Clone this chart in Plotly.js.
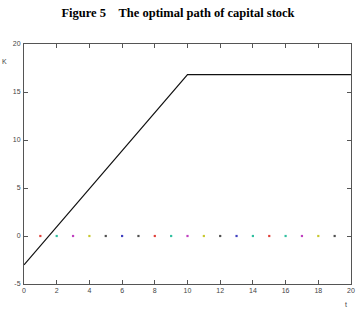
<!DOCTYPE html>
<html>
<head>
<meta charset="utf-8">
<script src="https://cdn.plot.ly/plotly-3.0.1.min.js"></script>
<style>html,body{margin:0;padding:0;background:#fff;}#chart{width:356px;height:310px;}</style>
</head>
<body>
<div id="chart"></div>
<script>
var pathT = [0, 10, 20];
var pathK = [-3, 16.8, 16.8];
var dotT = [1,2,3,4,5,6,7,8,9,10,11,12,13,14,15,16,17,18,19];
var dotK = [0,0,0,0,0,0,0,0,0,0,0,0,0,0,0,0,0,0,0];
var dotColors = ['#e0403a','#30c0a0','#c040c0','#c8c830','#505050','#4040c0','#505050','#e0403a','#30c0a0','#c040c0','#c8c830','#505050','#4040c0','#30c0a0','#e0403a','#30c0a0','#c040c0','#c8c830','#505050'];
var xTicks = [0,2,4,6,8,10,12,14,16,18,20];
var yTicks = [-5,0,5,10,15,20];

var axisCommon = {
  showgrid: false, zeroline: false, showline: true, mirror: 'ticks',
  linecolor: '#555', linewidth: 1, ticks: 'inside', ticklen: 4, tickcolor: '#555',
  tickfont: {family: 'Liberation Sans, Arial', size: 7, color: '#444'}
};

var data = [
  {x: pathT, y: pathK, mode: 'lines', line: {color: '#111', width: 1.2}, hoverinfo: 'skip'},
  {x: dotT, y: dotK, mode: 'markers', marker: {symbol: 'square', size: 2.2, color: dotColors}, hoverinfo: 'skip'}
];

var layout = {
  width: 356, height: 310,
  margin: {l: 24, r: 5, t: 44, b: 26},
  paper_bgcolor: '#fff', plot_bgcolor: '#fff',
  showlegend: false,
  title: {text: 'Figure 5\u00a0\u00a0\u00a0\u00a0The optimal path of capital stock', x: 0.5, xanchor: 'center', y: 0.96, yanchor: 'middle',
    font: {family: 'Liberation Serif, Times New Roman', size: 12.5, color: '#000', weight: 'bold'}},
  xaxis: Object.assign({}, axisCommon, {range: [0, 20], tickvals: xTicks, ticktext: xTicks.map(String)}),
  yaxis: Object.assign({}, axisCommon, {range: [-5, 20], tickvals: yTicks, ticktext: yTicks.map(String), ticklabelstandoff: 1}),
  annotations: [
    {text: 'K', xref: 'paper', yref: 'paper', x: -0.06, y: 0.925, showarrow: false, xanchor: 'center', yanchor: 'middle',
      font: {family: 'Liberation Sans, Arial', size: 7, color: '#444'}},
    {text: 't', xref: 'paper', yref: 'paper', x: 0.984, y: -0.085, showarrow: false, xanchor: 'center', yanchor: 'middle',
      font: {family: 'Liberation Sans, Arial', size: 7, color: '#444'}}
  ]
};

Plotly.newPlot('chart', data, layout, {staticPlot: true, displayModeBar: false});
</script>
</body>
</html>
